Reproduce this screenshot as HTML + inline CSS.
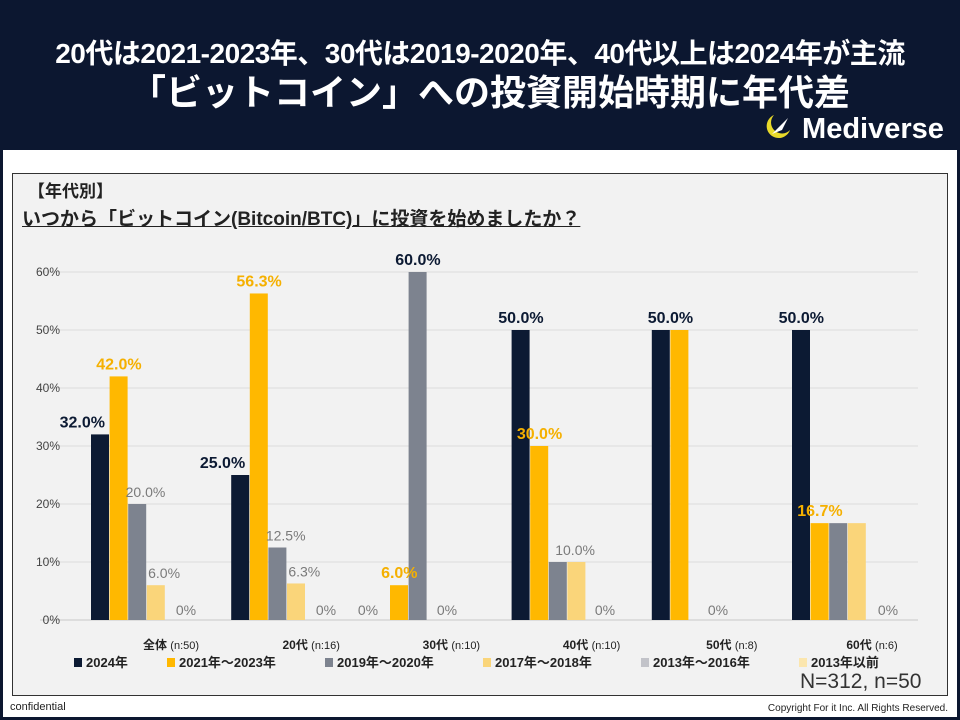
<!DOCTYPE html>
<html><head><meta charset="utf-8"><style>
body{margin:0;width:960px;height:720px;background:#0c1730;font-family:"Liberation Sans","Noto Sans CJK JP",sans-serif;overflow:hidden;position:relative}
.abs{position:absolute}
</style></head><body>
<div class="abs" style="left:0;width:960px;top:32px;text-align:center;color:#fff;font-weight:bold;font-size:28px;white-space:nowrap;letter-spacing:-0.5px">20代は2021-2023年、30代は2019-2020年、40代以上は2024年が主流</div>
<div class="abs" style="left:0;width:980px;top:64px;text-align:center;color:#fff;font-weight:bold;font-size:36px;white-space:nowrap">「ビットコイン」への投資開始時期に年代差</div>
<div class="abs" style="left:760px;top:110px;color:#fff;font-weight:bold;font-size:29px;white-space:nowrap">
<svg width="34" height="34" viewBox="0 0 34 34" style="vertical-align:-6px"><path d="M14 5 A12 12 0 1 0 30 20 A10 10 0 1 1 14 5Z" fill="#e8d92a"/><path d="M12 24 L28 8 L22 20 Z" fill="#fff"/></svg> Mediverse</div>
<div class="abs" style="left:3px;top:150px;width:954px;height:567px;background:#fff"></div>
<div class="abs" style="left:12px;top:173px;width:934px;height:521px;background:#f2f2f2;border:1px solid #333"></div>
<div class="abs" style="left:28px;top:177px;font-size:17px;font-weight:bold;color:#222">【年代別】</div>
<div class="abs" style="left:22px;top:204px;font-size:19px;font-weight:bold;color:#222;text-decoration:underline;white-space:nowrap">いつから「ビットコイン(Bitcoin/BTC)」に投資を始めましたか？</div>
<div class="abs" style="left:10px;top:701px;font-size:11px;color:#222">confidential</div>
<div class="abs" style="right:12px;top:703px;font-size:10px;color:#222">Copyright For it Inc. All Rights Reserved.</div>
<div class="abs" style="left:800px;top:670px;font-size:21px;color:#333">N=312, n=50</div>
<svg class="abs" id="chart" style="left:0;top:0" width="960" height="720"></svg>
<script>
const categories=["全体","20代","30代","40代","50代","60代"];
const catN=["(n:50)","(n:16)","(n:10)","(n:10)","(n:8)","(n:6)"];
const seriesNames=["2024年","2021年～2023年","2019年～2020年","2017年～2018年","2013年～2016年","2013年以前"];
const s2024=[32.0,25.0,0,50.0,50.0,50.0];
const s2021=[42.0,56.3,6.0,30.0,50.0,16.7];
const s2019=[20.0,12.5,60.0,10.0,0,16.7];
const s2017=[6.0,6.3,0,10.0,0,16.7];
const s2013=[0,0,0,0,0,0];
const sPre=[0,0,0,0,0,0];
const yTicks=[0,10,20,30,40,50,60];
const series=[s2024,s2021,s2019,s2017,s2013,sPre];
const colors=["#0c1a33","#ffb800","#7d838f","#fad57a","#c2c3c9","#fbe6ae"];
const legendColors=["#0c1a33","#ffb800","#7d838f","#fad57a","#c2c3c9","#fbe6ae"];
const NS="http://www.w3.org/2000/svg";
const svg=document.getElementById('chart');
const y=v=>620-v*5.8;
const gx=i=>91+i*140.2;
const bw=18.6;
const bx=(g,s)=>gx(g)+s*bw;
function mk(t,a,txt){const e=document.createElementNS(NS,t);for(const k in a)e.setAttribute(k,a[k]);if(txt!==undefined)e.textContent=txt;svg.appendChild(e);return e;}
yTicks.forEach(t=>{
 const l=mk('line',{x1:40,x2:918,y1:y(t),y2:y(t),stroke:t?'#dcdcdc':'#c8c8c8','stroke-width':1});
 
 
 const tx=mk('text',{x:60,y:y(t)+4,'font-size':12,fill:'#444','text-anchor':'end'},t+'%');
 
 
});
const labelStyle=[{fill:'#0c1a33',w:'bold',fs:16},{fill:'#f5b000',w:'bold',fs:16},{fill:'#7a7a7a',w:'normal',fs:14},{fill:'#7a7a7a',w:'normal',fs:14}];
categories.forEach((c,g)=>{
 series.forEach((s,k)=>{
  const v=s[g];
  if(v>0){
   const r=mk('rect',{x:bx(g,k),y:y(v),width:bw-0.6,height:620-y(v),fill:colors[k]});
   
   
  }
 });
 series.slice(0,4).forEach((s,k)=>{
  const v=s[g];if(v<=0)return;
  let st=labelStyle[k];
  if(k===2&&v>=50)st=labelStyle[0];
  let cx=bx(g,k)+bw/2;
  if(k===0&&v<45)cx-=18;
  if(k>=2&&v<50)cx+=8;
  if(g===3&&k===3)return;
  if(g===3&&k===2)cx+=9;
  if(g===5&&k>=2)return;
  if(g===4&&k===1)return;
  if(g===4&&k===0)cx=bx(g,1);
  const t=mk('text',{x:cx,y:y(v)-7,'font-size':st.fs,'font-weight':st.w,fill:st.fill,'text-anchor':'middle'},v.toFixed(1)+'%');
  
  
 });
 const zx=[186,326,447,605,718,888];
 const z=mk('text',{x:zx[g],y:615,'font-size':14,fill:'#7a7a7a','text-anchor':'middle'},'0%');
 
 
 if(g===2){const z2=mk('text',{x:368,y:615,'font-size':14,fill:'#7a7a7a','text-anchor':'middle'},'0%');
 
 }
 const xl=mk('text',{x:gx(g)+80,y:649,'font-size':12,fill:'#222','text-anchor':'middle'});
 
 
 const b=document.createElementNS(NS,'tspan');b.setAttribute('font-weight','bold');b.textContent=c+' ';xl.appendChild(b);
 const n=document.createElementNS(NS,'tspan');n.setAttribute('font-size','11');n.textContent=catN[g];xl.appendChild(n);
});
const lx=[74,167,325,483,641,799];
seriesNames.forEach((nm,k)=>{
 const r=mk('rect',{x:lx[k],y:658,width:8,height:9,fill:legendColors[k]});
 
 
 const t=mk('text',{x:lx[k]+12,y:667,'font-size':13,'font-weight':'bold',fill:'#222'},nm);
 
 
});
</script>
</body></html>
